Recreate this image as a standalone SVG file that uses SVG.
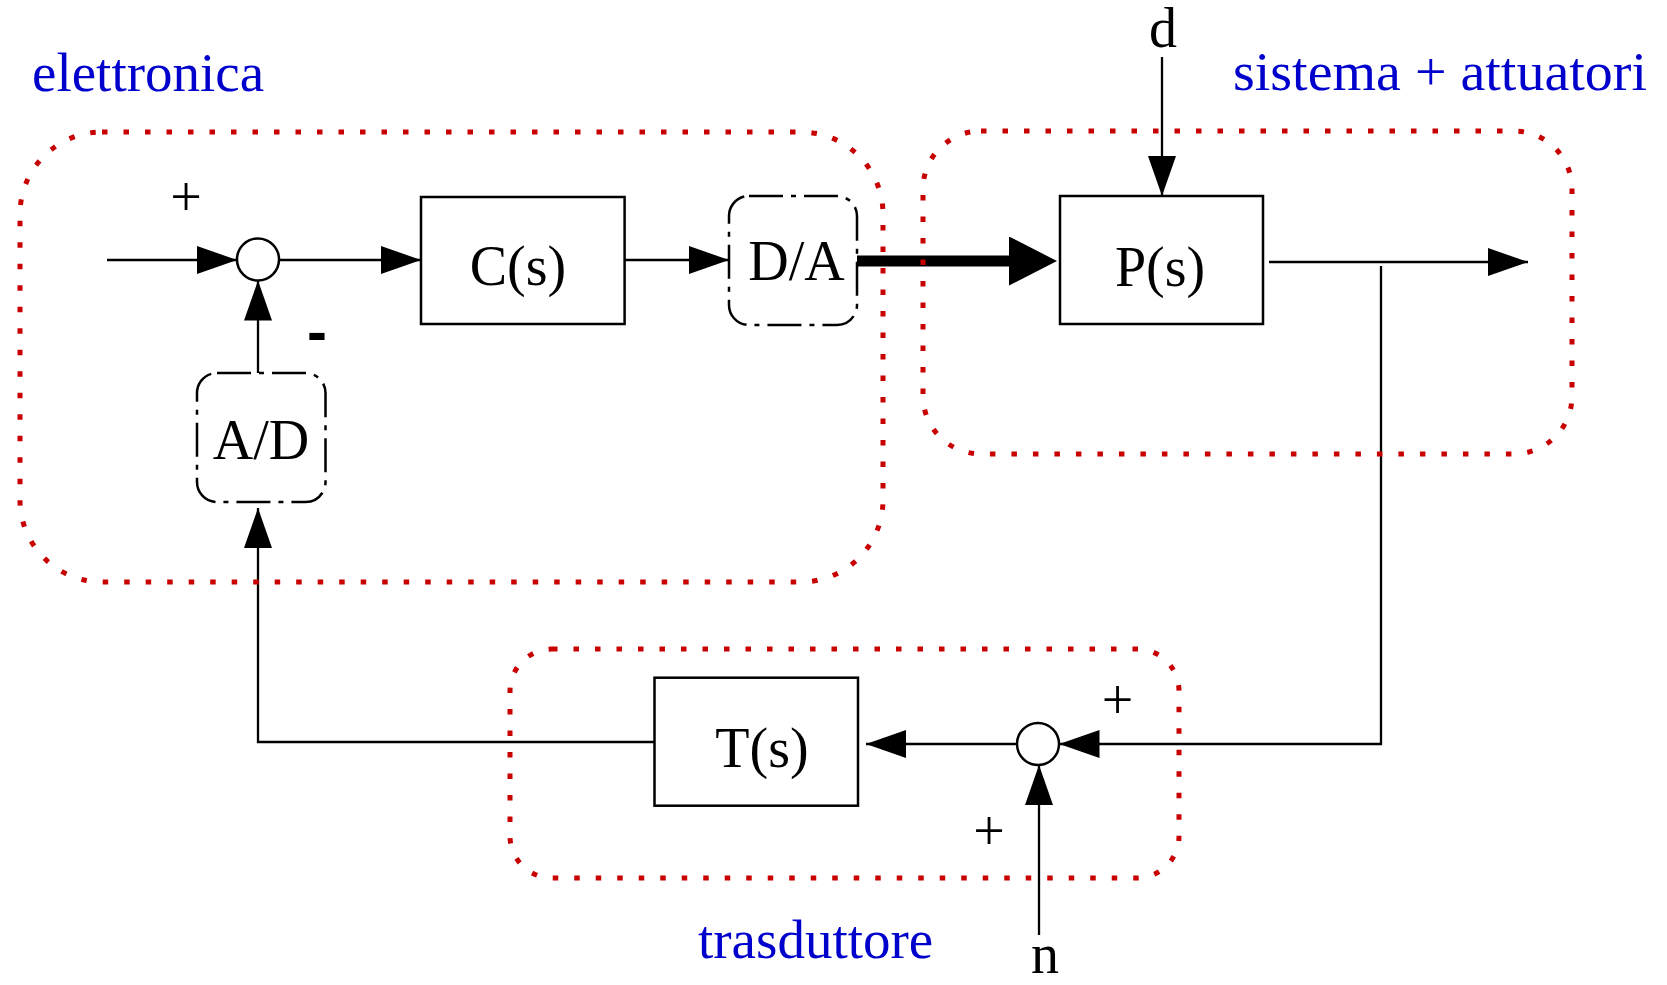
<svg xmlns="http://www.w3.org/2000/svg" width="1667" height="985" viewBox="0 0 1667 985">
<style>
.box{fill:none;stroke:#000;stroke-width:2.5}
.dd{fill:none;stroke:#000;stroke-width:2.5;stroke-dasharray:34 8 5 8}
.sum{fill:#fff;stroke:#000;stroke-width:2.5}
.zone{fill:none;stroke:#c80000;stroke-width:5;stroke-dasharray:5.5 16}
.ln{fill:none;stroke:#000;stroke-width:2.3}
.lbl{font-family:"Liberation Serif","Times New Roman",serif;font-size:56px;fill:#000}
.sign{font-family:"Liberation Serif","Times New Roman",serif;font-size:56px;fill:#000}
.zl{font-family:"Liberation Serif","Times New Roman",serif;font-size:55px;fill:#0000cc}
</style>
<defs>
<marker id="ah" viewBox="0 0 40 28" refX="40" refY="14" markerWidth="40" markerHeight="28" markerUnits="userSpaceOnUse" orient="auto">
<path d="M0,0 L40,14 L0,28 Z" fill="#000"/>
</marker>
<marker id="ahb" viewBox="0 0 48 49" refX="2" refY="24.5" markerWidth="48" markerHeight="49" markerUnits="userSpaceOnUse" orient="auto">
<path d="M0,0 L48,24.5 L0,49 Z" fill="#000"/>
</marker>
</defs>

<g id="connectors">
<path class="ln" d="M107,260 H237" marker-end="url(#ah)"/>
<path class="ln" d="M279,260 H421" marker-end="url(#ah)"/>
<path class="ln" d="M624.6,260 H729" marker-end="url(#ah)"/>
<path d="M857,261 H1011" fill="none" stroke="#000" stroke-width="11" marker-end="url(#ahb)"/>
<path class="ln" d="M1162,57 V196" marker-end="url(#ah)"/>
<path class="ln" d="M1269,262 H1528" marker-end="url(#ah)"/>
<path class="ln" d="M1381,266 V744 H1059.5" marker-end="url(#ah)"/>
<path class="ln" d="M1039,935 V765" marker-end="url(#ah)"/>
<path class="ln" d="M1017,744 H866" marker-end="url(#ah)"/>
<path class="ln" d="M654.5,742 H258 V508" marker-end="url(#ah)"/>
<path class="ln" d="M258,373 V280.5" marker-end="url(#ah)"/>
</g>

<g id="zone-elettronica">
<rect class="zone" x="20" y="132" width="863" height="450" rx="82" ry="82"/>
<text class="zl" x="32" y="91">elettronica</text>
</g>
<g id="zone-sistema">
<rect class="zone" x="923" y="131" width="649" height="323" rx="58" ry="58"/>
<text class="zl" x="1233" y="90" font-size="56" textLength="414" lengthAdjust="spacingAndGlyphs">sistema + attuatori</text>
</g>
<g id="zone-trasduttore">
<rect class="zone" x="510" y="649" width="669" height="229" rx="42" ry="42"/>
<text class="zl" x="698" y="958">trasduttore</text>
</g>

<g id="sum1">
<circle class="sum" cx="258" cy="259.5" r="21"/>
<text class="sign" x="186" y="216" text-anchor="middle">+</text>
<text x="307" y="352" style="font-family:'Liberation Sans',Arial,sans-serif;font-size:60px;font-weight:bold">-</text>
</g>
<g id="C">
<rect class="box" x="421" y="197" width="203.6" height="127"/>
<text class="lbl" x="518" y="285" text-anchor="middle">C(s)</text>
</g>
<g id="DA">
<rect class="dd" x="729" y="196" width="128" height="129" rx="20" ry="20"/>
<text class="lbl" x="796.5" y="280" text-anchor="middle">D/A</text>
</g>
<g id="AD">
<rect class="dd" x="197" y="373" width="128.5" height="129" rx="20" ry="20"/>
<text class="lbl" x="261" y="459" text-anchor="middle">A/D</text>
</g>
<g id="P">
<rect class="box" x="1060" y="196" width="203" height="128"/>
<text class="lbl" x="1160" y="286" text-anchor="middle">P(s)</text>
</g>
<g id="d">
<text class="lbl" x="1163" y="47" text-anchor="middle" font-size="54">d</text>
</g>
<g id="sum2">
<circle class="sum" cx="1038" cy="744" r="21"/>
<text class="sign" x="1117.5" y="719" text-anchor="middle">+</text>
<text class="sign" x="989" y="850" text-anchor="middle">+</text>
</g>
<g id="T">
<rect class="box" x="654.5" y="677.7" width="203.5" height="128"/>
<text class="lbl" x="762" y="767" text-anchor="middle">T(s)</text>
</g>
<g id="n">
<text class="lbl" x="1045" y="973" text-anchor="middle" font-size="55">n</text>
</g>
</svg>
